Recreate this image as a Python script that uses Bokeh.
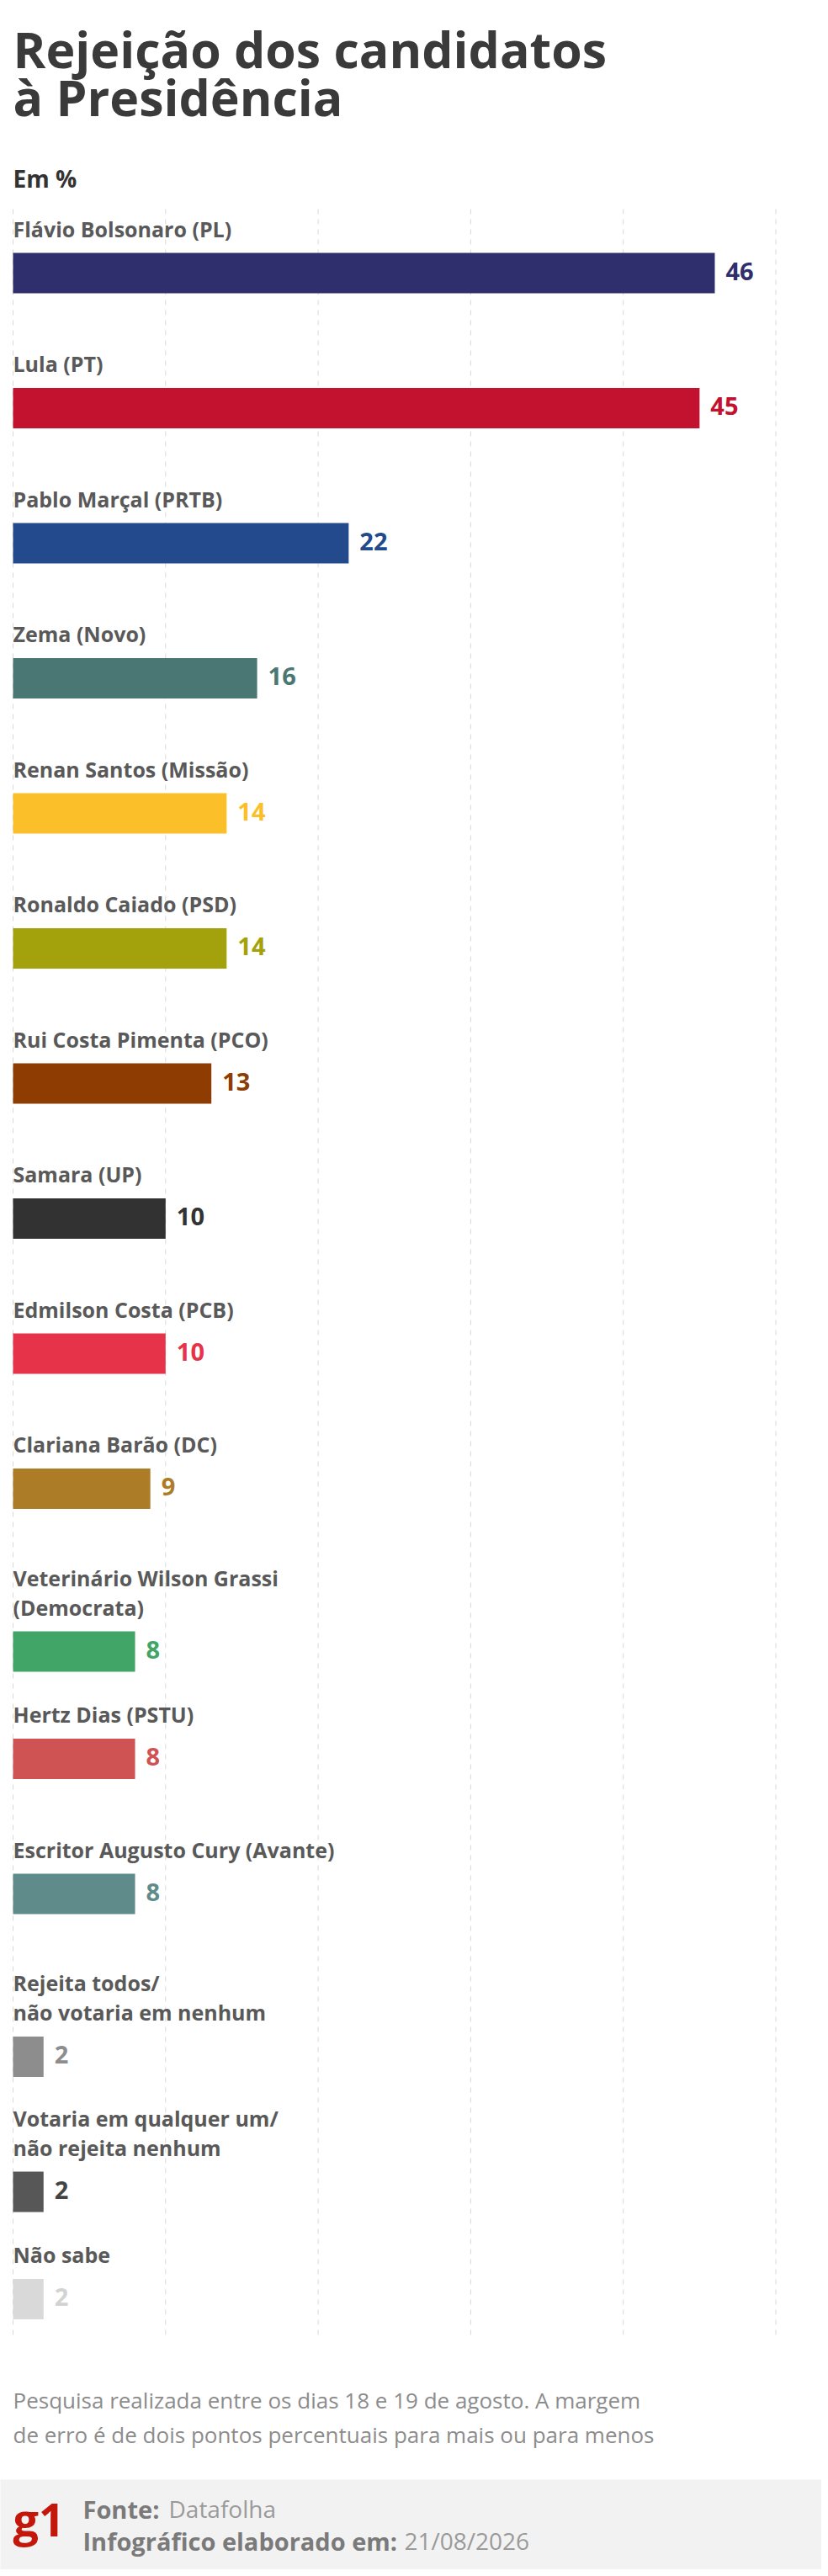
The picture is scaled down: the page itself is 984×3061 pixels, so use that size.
from bokeh.plotting import figure
from bokeh.models import Range1d
from bokeh.core.properties import value
from bokeh.embed import file_html
from bokeh.resources import INLINE

# ---------------- data ----------------
categories = [
    "Flávio Bolsonaro (PL)",
    "Lula (PT)",
    "Pablo Marçal (PRTB)",
    "Zema (Novo)",
    "Renan Santos (Missão)",
    "Ronaldo Caiado (PSD)",
    "Rui Costa Pimenta (PCO)",
    "Samara (UP)",
    "Edmilson Costa (PCB)",
    "Clariana Barão (DC)",
    "Veterinário Wilson Grassi\n(Democrata)",
    "Hertz Dias (PSTU)",
    "Escritor Augusto Cury (Avante)",
    "Rejeita todos/\nnão votaria em nenhum",
    "Votaria em qualquer um/\nnão rejeita nenhum",
    "Não sabe",
]
values = [46, 45, 22, 16, 14, 14, 13, 10, 10, 9, 8, 8, 8, 2, 2, 2]
bar_colors = ["#302F6D", "#C2122F", "#234A8C", "#4A7773", "#FBBF2A", "#A3A10C",
              "#8E3C02", "#323232", "#E6334A", "#AD7C26", "#40A566", "#CF5353",
              "#5F8C8B", "#8D8D8D", "#575757", "#D9D9D9"]
value_colors = ["#302F6D", "#C2122F", "#234A8C", "#4A7773", "#FBBF2A", "#A3A10C",
                "#8E3C02", "#333333", "#E6334A", "#AD7C26", "#40A566", "#CF5353",
                "#5F8C8B", "#8D8D8D", "#444444", "#D3D3D3"]
grid_ticks = [0, 10, 20, 30, 40, 50]

title_lines = ["Rejeição dos candidatos", "à Presidência"]
subtitle = "Em %"
note_lines = ["Pesquisa realizada entre os dias 18 e 19 de agosto. A margem",
              "de erro é de dois pontos percentuais para mais ou para menos"]
source_bold = ["Fonte:", "Infográfico elaborado em:"]
source_regular = ["Datafolha", "21/08/2026"]

# ---------------- layout ----------------
W, H, OFF = 976, 3053, 0
PPU = 18.13          # pixels per percentage point
X0 = 15              # picture x of value 0
FONT = value("Open Sans")
MID = 0.388          # baseline -> em-box centre, in em


def px2x(px):
    return (px - X0) / PPU


def mid(baseline, size):
    return baseline - MID * size


p = figure(width=W, height=H, output_backend="svg", toolbar_location=None,
           x_range=Range1d(px2x(OFF), px2x(OFF + W)),
           y_range=Range1d(OFF + H, OFF), min_border=0)
p.axis.visible = False
p.grid.visible = False
p.outline_line_color = None
p.background_fill_color = "white"
p.border_fill_color = "white"

# footer band
p.quad(left=[px2x(-20)], right=[px2x(1100)], top=[2946], bottom=[3120],
       fill_color="#F2F2F2", line_color=None)

# bar positions
BAR_H = 48
STEP = 160.5
FIRST_TOP = 300
EXTRA = 33
LINE_GAP = 35
LAB_SIZE = 25
VAL_SIZE = 29

centers = []
lab_x, lab_y, lab_t = [], [], []
for i, cat in enumerate(categories):
    lines = cat.split("\n")
    top = FIRST_TOP + i * STEP + (len(lines) - 1) * EXTRA
    centers.append(top + BAR_H / 2)
    n = len(lines)
    for j, ln in enumerate(lines):
        lab_x.append(0)
        lab_y.append(mid(top - 19 - (n - 1 - j) * LINE_GAP, LAB_SIZE))
        lab_t.append(ln)

# dashed vertical grid lines
p.segment(x0=grid_ticks, x1=grid_ticks, y0=[248] * len(grid_ticks),
          y1=[2780] * len(grid_ticks), line_color="#D9D9D9", line_width=1,
          line_dash="6 6")

# bars
p.hbar(y=centers, left=0, right=values, height=BAR_H, fill_color=bar_colors,
       line_color=None)

# value labels
p.text(x=values, y=[mid(c + 9, VAL_SIZE) for c in centers],
       text=[str(v) for v in values],
       x_offset=13, text_color=value_colors, text_font=FONT,
       text_font_style="bold", text_font_size=f"{VAL_SIZE}px",
       text_baseline="middle", text_align="left")

# category labels
p.text(x=lab_x, y=lab_y, text=lab_t, text_color="#595959", text_font=FONT,
       text_font_style="bold", text_font_size=f"{LAB_SIZE}px",
       text_baseline="middle", text_align="left")

# title
p.text(x=[px2x(15)] * 2, y=[mid(80, 59), mid(137, 59)], text=title_lines,
       text_color="#3A3A3A", text_font=FONT, text_font_style="bold",
       text_font_size="59px", text_baseline="middle")

# subtitle
p.text(x=[px2x(15)], y=[mid(222, 28)], text=[subtitle], text_color="#333333",
       text_font=FONT, text_font_style="bold", text_font_size="28px",
       text_baseline="middle")

# note
p.text(x=[px2x(15)] * 2, y=[mid(2862, 26), mid(2903, 26)], text=note_lines,
       text_color="#8C8C8C", text_font=FONT, text_font_size="26px",
       text_baseline="middle")

# g1 logo
p.text(x=[px2x(15)], y=[mid(3013, 54)], text=["g1"], text_color="#C4170C",
       text_font=FONT, text_font_style="bold", text_font_size="54px",
       text_baseline="middle")

# source lines
p.text(x=[px2x(98)] * 2, y=[mid(2992, 29), mid(3030, 29)], text=source_bold,
       text_color="#7A7A7A", text_font=FONT, text_font_style="bold",
       text_font_size="29px", text_baseline="middle")
p.text(x=[px2x(200), px2x(480)], y=[mid(2992, 29), mid(3030, 29)],
       text=source_regular, text_color="#9A9A9A", text_font=FONT,
       text_font_size="28px", text_baseline="middle")

open("out.html", "w").write(file_html(p, INLINE))
